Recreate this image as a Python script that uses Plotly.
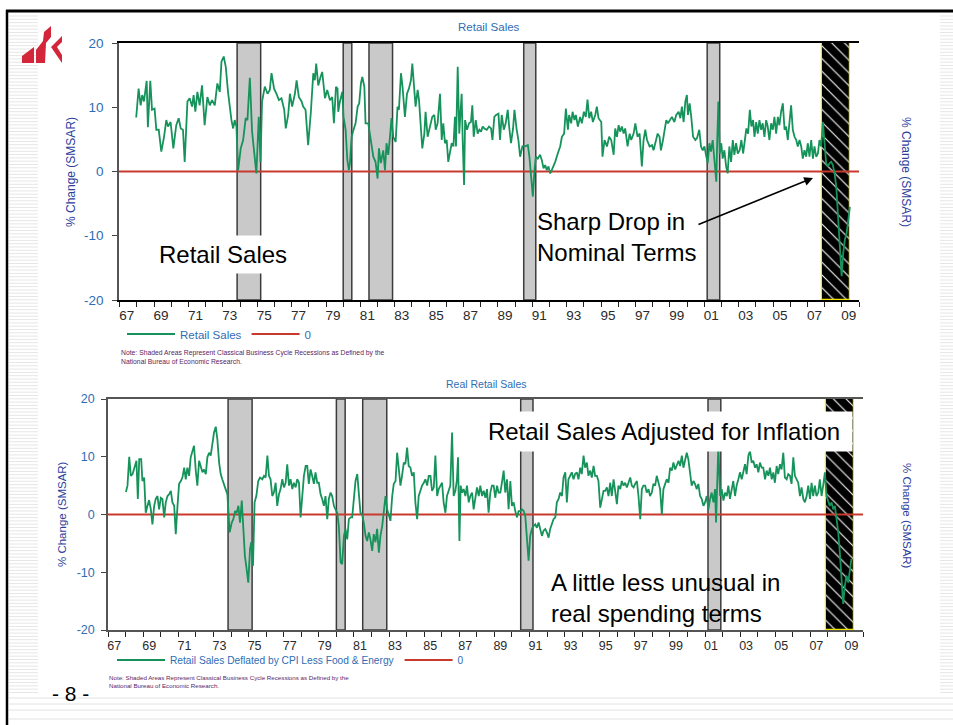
import plotly.graph_objects as go

W, H = 953, 725

# ---------------- data ----------------
# NBER recessions (decimal years); the last one is still open
recessions = [(1973.83, 1975.2), (1980.0, 1980.5), (1981.5, 1982.87),
              (1990.5, 1991.2), (2001.17, 2001.9)]
current_recession = (2007.87, 2009.48)

# Retail sales, % change (SMSAR)
nominal_dates = [
    1967.96, 1968.10, 1968.22, 1968.31, 1968.41, 1968.57, 1968.64, 1968.78, 1968.88, 1969.03,
    1969.13, 1969.27, 1969.42, 1969.58, 1969.71, 1969.81, 1969.96, 1970.12, 1970.29, 1970.43,
    1970.55, 1970.68, 1970.78, 1970.94, 1971.07, 1971.21, 1971.30, 1971.40, 1971.52, 1971.65,
    1971.79, 1971.94, 1972.10, 1972.24, 1972.37, 1972.53, 1972.68, 1972.82, 1972.92, 1973.05,
    1973.17, 1973.30, 1973.50, 1973.60, 1973.69, 1973.79, 1973.89, 1974.04, 1974.18, 1974.33,
    1974.43, 1974.57, 1974.70, 1974.86, 1974.95, 1975.09, 1975.19, 1975.28, 1975.44, 1975.60,
    1975.73, 1975.83, 1975.98, 1976.12, 1976.26, 1976.41, 1976.57, 1976.66, 1976.80, 1976.90,
    1977.03, 1977.19, 1977.29, 1977.42, 1977.58, 1977.67, 1977.81, 1977.96, 1978.12, 1978.26,
    1978.35, 1978.43, 1978.55, 1978.68, 1978.78, 1978.94, 1979.07, 1979.23, 1979.36, 1979.46,
    1979.58, 1979.67, 1979.71, 1979.81, 1979.95, 1980.02, 1980.14, 1980.24, 1980.33, 1980.39,
    1980.49, 1980.60, 1980.72, 1980.84, 1980.93, 1981.03, 1981.11, 1981.23, 1981.30, 1981.46,
    1981.61, 1981.75, 1981.88, 1982.00, 1982.08, 1982.19, 1982.33, 1982.43, 1982.52, 1982.62,
    1982.72, 1982.81, 1982.91, 1983.05, 1983.16, 1983.24, 1983.36, 1983.45, 1983.59, 1983.71,
    1983.82, 1983.94, 1984.02, 1984.11, 1984.21, 1984.33, 1984.41, 1984.52, 1984.60, 1984.72,
    1984.79, 1984.91, 1985.05, 1985.18, 1985.30, 1985.38, 1985.49, 1985.63, 1985.73, 1985.82,
    1985.92, 1986.02, 1986.11, 1986.21, 1986.31, 1986.41, 1986.50, 1986.56, 1986.66, 1986.75,
    1986.89, 1986.95, 1987.03, 1987.09, 1987.20, 1987.32, 1987.43, 1987.51, 1987.59, 1987.71,
    1987.82, 1987.92, 1988.02, 1988.11, 1988.21, 1988.35, 1988.48, 1988.60, 1988.68, 1988.79,
    1988.89, 1989.03, 1989.12, 1989.22, 1989.34, 1989.45, 1989.57, 1989.65, 1989.76, 1989.88,
    1989.96, 1990.09, 1990.19, 1990.29, 1990.42, 1990.58, 1990.74, 1990.83, 1990.93, 1991.03,
    1991.12, 1991.20, 1991.32, 1991.45, 1991.55, 1991.65, 1991.75, 1991.84, 1991.94, 1992.04,
    1992.13, 1992.23, 1992.33, 1992.48, 1992.62, 1992.72, 1992.85, 1992.95, 1993.07, 1993.14,
    1993.26, 1993.34, 1993.45, 1993.53, 1993.65, 1993.78, 1993.88, 1994.00, 1994.11, 1994.21,
    1994.31, 1994.42, 1994.52, 1994.66, 1994.75, 1994.85, 1995.01, 1995.08, 1995.20, 1995.34,
    1995.47, 1995.59, 1995.73, 1995.82, 1995.92, 1996.02, 1996.11, 1996.21, 1996.31, 1996.40,
    1996.54, 1996.66, 1996.75, 1996.89, 1996.99, 1997.12, 1997.24, 1997.37, 1997.47, 1997.57,
    1997.67, 1997.82, 1997.96, 1998.05, 1998.19, 1998.29, 1998.40, 1998.48, 1998.60, 1998.70,
    1998.79, 1998.89, 1998.99, 1999.12, 1999.26, 1999.37, 1999.51, 1999.61, 1999.70, 1999.80,
    1999.90, 1999.99, 2000.05, 2000.15, 2000.25, 2000.35, 2000.48, 2000.58, 2000.71, 2000.81,
    2000.91, 2001.01, 2001.10, 2001.20, 2001.30, 2001.39, 2001.49, 2001.59, 2001.70, 2001.74,
    2001.82, 2001.90, 2001.99, 2002.07, 2002.17, 2002.27, 2002.36, 2002.46, 2002.56, 2002.66,
    2002.75, 2002.85, 2002.95, 2003.06, 2003.16, 2003.26, 2003.36, 2003.45, 2003.55, 2003.65,
    2003.74, 2003.84, 2003.92, 2004.02, 2004.11, 2004.21, 2004.31, 2004.40, 2004.50, 2004.60,
    2004.69, 2004.79, 2004.89, 2004.99, 2005.08, 2005.18, 2005.28, 2005.37, 2005.47, 2005.57,
    2005.67, 2005.76, 2005.86, 2005.96, 2006.05, 2006.15, 2006.25, 2006.35, 2006.44, 2006.54,
    2006.64, 2006.73, 2006.83, 2006.93, 2007.02, 2007.12, 2007.22, 2007.32, 2007.41, 2007.51,
    2007.61, 2007.70, 2007.80, 2007.90, 2007.99, 2008.09, 2008.19, 2008.29, 2008.38, 2008.48,
    2008.58, 2008.68, 2008.77, 2008.87, 2008.99, 2009.08, 2009.18, 2009.28, 2009.37, 2009.47,
]
nominal_pct = [
    8.4, 12.9, 10.3, 11.9, 10.9, 14.1, 6.9, 14.1, 9.6, 9.8,
    6.5, 6.5, 3.1, 5.4, 8.0, 7.0, 7.7, 3.6, 7.2, 8.3,
    6.7, 6.5, 1.5, 10.9, 11.4, 10.1, 11.9, 9.3, 12.4, 10.3,
    13.4, 7.2, 11.6, 10.3, 11.1, 10.3, 13.7, 12.4, 17.1, 17.9,
    16.3, 12.4, 8.0, 6.7, 8.0, 7.0, 0.2, 3.6, 4.9, 8.3,
    8.0, 14.6, 6.2, 2.6, -0.3, 8.5, 1.5, 10.9, 13.2, 12.1,
    12.7, 15.3, 12.9, 12.1, 11.1, 11.4, 9.6, 6.7, 8.8, 12.1,
    10.1, 12.1, 14.2, 11.6, 10.9, 10.1, 9.6, 4.1, 9.3, 15.3,
    14.2, 16.8, 13.4, 14.7, 15.5, 11.4, 12.7, 11.1, 11.6, 7.5,
    13.2, 12.9, 9.3, 10.9, 12.4, 8.5, 6.5, 1.8, 0.2, 1.3,
    5.4, 6.5, 7.5, 10.1, 10.6, 13.7, 14.7, 13.2, 7.5, 7.5,
    4.9, 2.3, 1.5, -1.1, 3.6, 1.3, 3.3, 0.2, 4.4, 2.6,
    5.4, 8.3, 5.4, 4.6, 10.1, 9.6, 15.3, 13.2, 8.5, 12.1,
    12.9, 14.2, 16.8, 13.2, 10.1, 12.7, 11.1, 6.7, 3.6, 5.9,
    9.3, 5.4, 7.0, 8.5, 8.8, 6.5, 7.5, 12.1, 4.9, 7.5,
    4.4, 4.9, 1.5, 2.8, 4.4, 3.9, 8.5, 3.9, 16.3, 5.9,
    12.1, 4.9, -2.1, 8.0, 6.5, 7.5, 7.7, 10.3, 5.4, 8.0,
    5.9, 6.5, 6.2, 7.0, 6.7, 6.5, 7.0, 6.7, 4.9, 8.5,
    8.8, 9.0, 4.9, 8.8, 6.5, 7.5, 9.6, 7.0, 4.4, 6.7,
    9.6, 6.5, 4.9, 2.3, 3.9, 3.9, 4.1, 2.3, -1.3, -3.9,
    0.0, 2.3, 2.0, 2.6, 1.8, 0.5, 1.0, 0.2, 0.8, -0.3,
    0.2, 0.8, 1.5, 2.8, 3.9, 5.4, 5.9, 9.8, 6.5, 8.8,
    7.5, 9.3, 8.0, 8.8, 7.0, 8.5, 7.5, 9.3, 8.5, 11.2,
    8.3, 9.3, 7.7, 8.8, 10.1, 8.3, 7.7, 2.3, 4.9, 3.9,
    5.4, 4.9, 2.6, 6.7, 5.4, 7.2, 6.2, 7.0, 5.9, 6.7,
    3.9, 5.9, 4.9, 5.9, 7.5, 5.4, 5.9, 0.8, 4.9, 6.5,
    4.9, 3.9, 4.1, 3.3, 4.9, 5.9, 5.4, 3.3, 4.9, 6.5,
    8.0, 7.5, 8.0, 8.5, 7.7, 8.8, 9.3, 8.3, 10.1, 7.7,
    10.9, 11.9, 8.8, 10.6, 8.3, 5.4, 4.9, 5.2, 6.5, 3.9,
    3.3, 3.9, 2.6, 1.3, 4.4, 3.1, 4.9, 2.3, -1.6, 3.3,
    10.9, 2.8, 4.4, 2.0, 3.3, 0.8, -0.3, 3.9, 1.5, 4.9,
    2.6, 4.4, 2.8, 3.3, 4.9, 2.8, 4.9, 6.7, 5.9, 9.6,
    7.0, 8.0, 5.4, 7.7, 5.9, 8.0, 6.5, 7.5, 5.4, 8.0,
    7.0, 4.9, 7.5, 6.5, 8.5, 5.9, 8.5, 7.2, 9.3, 10.6,
    6.5, 7.0, 4.9, 8.0, 10.3, 6.5, 5.4, 4.9, 3.9, 4.9,
    3.9, 2.0, 3.3, 2.3, 4.4, 2.3, 4.9, 2.0, 3.9, 2.3,
    2.8, 4.9, 3.9, 7.7, 3.9, 1.3, 0.8, 1.3, 1.5, 1.0,
    -0.3, -2.4, -6.5, -11.7, -16.3, -12.7, -10.6, -9.6, -8.0, -5.5,
]

# Retail sales deflated by CPI less food & energy, % change (SMSAR)
real_dates = [
    1968.01, 1968.10, 1968.20, 1968.29, 1968.39, 1968.48, 1968.61, 1968.69, 1968.77, 1968.88,
    1968.95, 1969.05, 1969.14, 1969.24, 1969.33, 1969.43, 1969.52, 1969.62, 1969.71, 1969.81,
    1969.90, 1970.00, 1970.09, 1970.19, 1970.28, 1970.38, 1970.47, 1970.57, 1970.66, 1970.76,
    1970.85, 1970.95, 1971.04, 1971.14, 1971.23, 1971.33, 1971.42, 1971.51, 1971.61, 1971.70,
    1971.80, 1971.89, 1971.99, 1972.08, 1972.18, 1972.27, 1972.37, 1972.46, 1972.56, 1972.65,
    1972.75, 1972.84, 1972.94, 1973.03, 1973.13, 1973.22, 1973.32, 1973.41, 1973.50, 1973.60,
    1973.69, 1973.79, 1973.92, 1974.04, 1974.13, 1974.23, 1974.32, 1974.42, 1974.51, 1974.61,
    1974.70, 1974.79, 1974.89, 1974.98, 1975.08, 1975.15, 1975.25, 1975.34, 1975.44, 1975.55,
    1975.65, 1975.78, 1975.88, 1975.97, 1976.07, 1976.16, 1976.25, 1976.35, 1976.44, 1976.54,
    1976.63, 1976.73, 1976.82, 1976.92, 1977.01, 1977.11, 1977.20, 1977.30, 1977.39, 1977.49,
    1977.58, 1977.68, 1977.77, 1977.87, 1977.96, 1978.06, 1978.15, 1978.25, 1978.34, 1978.43,
    1978.53, 1978.62, 1978.72, 1978.81, 1978.91, 1979.00, 1979.10, 1979.19, 1979.29, 1979.38,
    1979.48, 1979.57, 1979.67, 1979.76, 1979.86, 1979.95, 1980.05, 1980.14, 1980.24, 1980.33,
    1980.43, 1980.52, 1980.62, 1980.71, 1980.81, 1980.90, 1981.00, 1981.09, 1981.19, 1981.28,
    1981.37, 1981.47, 1981.56, 1981.66, 1981.75, 1981.85, 1981.94, 1982.04, 1982.13, 1982.23,
    1982.32, 1982.42, 1982.51, 1982.61, 1982.70, 1982.80, 1982.89, 1982.99, 1983.08, 1983.18,
    1983.27, 1983.37, 1983.46, 1983.55, 1983.65, 1983.74, 1983.84, 1983.93, 1984.03, 1984.12,
    1984.22, 1984.31, 1984.41, 1984.50, 1984.60, 1984.69, 1984.79, 1984.88, 1984.98, 1985.07,
    1985.17, 1985.26, 1985.36, 1985.45, 1985.55, 1985.64, 1985.74, 1985.83, 1985.93, 1986.02,
    1986.11, 1986.21, 1986.30, 1986.40, 1986.49, 1986.59, 1986.68, 1986.78, 1986.87, 1986.93,
    1987.01, 1987.08, 1987.16, 1987.25, 1987.35, 1987.44, 1987.54, 1987.63, 1987.73, 1987.82,
    1987.92, 1988.01, 1988.11, 1988.20, 1988.30, 1988.39, 1988.49, 1988.58, 1988.67, 1988.77,
    1988.86, 1988.96, 1989.05, 1989.15, 1989.24, 1989.34, 1989.43, 1989.53, 1989.62, 1989.72,
    1989.81, 1989.91, 1990.00, 1990.10, 1990.19, 1990.29, 1990.38, 1990.48, 1990.57, 1990.67,
    1990.76, 1990.85, 1990.95, 1991.04, 1991.14, 1991.23, 1991.33, 1991.42, 1991.52, 1991.61,
    1991.71, 1991.80, 1991.90, 1991.99, 1992.09, 1992.18, 1992.28, 1992.37, 1992.47, 1992.56,
    1992.66, 1992.75, 1992.85, 1992.94, 1993.04, 1993.13, 1993.22, 1993.32, 1993.41, 1993.51,
    1993.60, 1993.70, 1993.79, 1993.89, 1993.98, 1994.08, 1994.17, 1994.27, 1994.36, 1994.46,
    1994.55, 1994.65, 1994.74, 1994.84, 1994.93, 1995.03, 1995.12, 1995.22, 1995.31, 1995.41,
    1995.50, 1995.60, 1995.69, 1995.79, 1995.88, 1995.98, 1996.07, 1996.17, 1996.26, 1996.36,
    1996.45, 1996.55, 1996.64, 1996.74, 1996.83, 1996.93, 1997.02, 1997.12, 1997.21, 1997.31,
    1997.40, 1997.49, 1997.59, 1997.68, 1997.78, 1997.87, 1997.97, 1998.06, 1998.16, 1998.25,
    1998.35, 1998.44, 1998.54, 1998.63, 1998.73, 1998.82, 1998.92, 1999.01, 1999.11, 1999.20,
    1999.30, 1999.39, 1999.49, 1999.58, 1999.68, 1999.77, 1999.87, 1999.96, 2000.05, 2000.15,
    2000.24, 2000.34, 2000.43, 2000.53, 2000.62, 2000.72, 2000.81, 2000.91, 2001.00, 2001.10,
    2001.19, 2001.29, 2001.38, 2001.48, 2001.57, 2001.63, 2001.70, 2001.76, 2001.86, 2001.95,
    2002.05, 2002.14, 2002.24, 2002.33, 2002.42, 2002.52, 2002.61, 2002.71, 2002.80, 2002.90,
    2002.99, 2003.09, 2003.18, 2003.28, 2003.37, 2003.47, 2003.56, 2003.66, 2003.75, 2003.85,
    2003.94, 2004.04, 2004.13, 2004.23, 2004.32, 2004.42, 2004.51, 2004.61, 2004.70, 2004.80,
    2004.89, 2004.98, 2005.08, 2005.17, 2005.27, 2005.36, 2005.46, 2005.55, 2005.65, 2005.74,
    2005.84, 2005.93, 2006.03, 2006.12, 2006.22, 2006.31, 2006.41, 2006.50, 2006.60, 2006.69,
    2006.79, 2006.88, 2006.98, 2007.07, 2007.16, 2007.26, 2007.35, 2007.45, 2007.54, 2007.64,
    2007.73, 2007.83, 2007.92, 2008.02, 2008.11, 2008.21, 2008.30, 2008.40, 2008.49, 2008.59,
    2008.68, 2008.78, 2008.87, 2008.97, 2009.06, 2009.16, 2009.25, 2009.34,
]
real_pct = [
    3.9, 5.0, 10.0, 6.7, 7.0, 8.1, 9.3, 2.7, 9.6, 9.6,
    5.8, 6.4, 0.3, 1.5, 2.5, 0.9, -1.7, 1.5, 2.7, 3.2,
    0.9, 2.9, 2.7, -0.5, 2.1, 3.2, 3.5, 4.1, 2.1, 1.5,
    -3.4, 1.5, 5.3, 5.8, 6.4, 8.1, 6.1, 8.1, 6.7, 9.9,
    11.0, 11.9, 7.6, 5.0, 9.3, 8.4, 7.3, 7.8, 7.0, 9.9,
    10.7, 10.2, 12.5, 14.2, 15.2, 13.0, 9.0, 7.0, 6.1, 5.0,
    4.4, 3.5, -3.1, -1.4, -0.8, 0.6, 0.3, 1.5, -1.4, 2.4,
    -3.7, -7.2, -9.5, -11.8, -6.0, -4.8, -8.9, 2.1, 3.2, 5.8,
    6.4, 6.1, 6.7, 6.4, 10.2, 6.7, 6.1, 3.2, 3.8, 5.5,
    1.5, 3.5, 4.4, 6.1, 4.7, 5.5, 8.7, 5.0, 6.1, 4.4,
    5.5, 4.7, 6.1, 5.5, -0.5, 2.7, 6.7, 8.4, 8.4, 5.3,
    7.8, 6.7, 5.3, 7.3, 5.5, 5.5, 3.5, 2.7, 1.5, 3.2,
    -0.8, 2.7, 3.8, 3.2, 1.5, 0.9, 0.3, -2.0, -8.3, -8.6,
    -3.7, -2.5, -4.3, -0.8, -0.5, -0.5, 3.2, 5.8, 7.0, 3.2,
    0.3, 0.0, -1.4, -3.7, -4.6, -3.1, -4.3, -6.3, -3.4, -4.8,
    -2.5, -6.6, -3.7, -2.0, 0.9, 3.2, 0.9, -0.2, -1.1, 3.2,
    5.3, 5.8, 10.7, 8.1, 5.0, 6.7, 9.0, 8.7, 11.6, 8.4,
    8.1, 6.7, 7.3, 2.1, -0.8, 3.2, 4.4, 5.0, 5.5, 6.1,
    5.0, 6.7, 6.7, 4.1, 4.7, 10.2, 3.2, 4.4, 5.0, 5.5,
    2.1, 0.3, 3.2, 4.4, 5.0, 14.2, 3.2, 4.1, 6.1, 9.9,
    -4.6, 5.0, 3.8, 4.4, 3.2, 5.0, 2.1, 3.2, 3.8, 0.9,
    3.2, 4.7, 3.2, 5.0, 3.2, 4.1, 2.9, 4.4, 0.3, 3.8,
    5.0, 5.0, 2.9, 5.0, 3.8, 3.8, 5.5, 7.6, 3.8, 6.1,
    0.9, 5.8, 1.5, 2.1, 0.6, -0.5, 0.6, 0.6, 0.9, 0.6,
    -0.2, -3.7, -8.0, -3.7, -2.5, -2.0, -1.7, -2.3, -1.4, -2.5,
    -3.7, -2.8, -2.5, -3.1, -4.0, -2.5, -1.7, -0.8, -0.5, 2.1,
    2.7, 3.8, 3.2, 6.4, 7.3, 2.1, 6.1, 6.7, 7.3, 6.1,
    7.0, 7.3, 6.1, 8.1, 7.0, 10.2, 8.1, 9.0, 6.7, 7.6,
    6.4, 8.4, 6.7, 6.7, 5.8, 1.2, 2.7, 4.1, 4.1, 4.7,
    3.2, 5.5, 3.2, 6.1, 4.1, 1.8, 5.0, 4.4, 5.8, 5.0,
    5.5, 4.7, 5.5, 6.4, 5.0, 4.7, 5.3, 5.8, 3.2, -0.8,
    4.4, 5.0, 5.0, 3.8, 4.4, 3.2, 3.8, 5.3, 5.0, 6.7,
    5.5, 4.4, 0.0, 4.4, 5.3, 6.1, 5.5, 8.1, 7.6, 9.0,
    7.8, 8.7, 9.3, 8.4, 10.2, 8.1, 9.6, 10.7, 9.6, 7.6,
    5.0, 5.8, 5.3, 4.4, 5.3, 3.2, 2.7, 1.5, 2.1, 3.2,
    0.9, 2.7, 3.8, 2.1, 4.4, -1.4, 9.0, 12.0, 3.2, 4.4,
    2.4, 3.8, 3.2, 5.0, 2.7, 4.4, 5.8, 3.2, 5.0, 6.1,
    7.3, 6.1, 7.3, 8.7, 7.0, 10.2, 11.0, 9.0, 9.3, 8.1,
    8.7, 7.3, 9.0, 8.1, 8.1, 6.1, 7.6, 6.7, 8.1, 6.1,
    7.3, 5.5, 8.4, 7.0, 8.7, 7.8, 10.7, 6.4, 6.1, 7.0,
    6.7, 5.3, 9.9, 6.7, 6.1, 5.5, 3.2, 4.7, 2.7, 2.1,
    3.2, 5.0, 2.7, 5.5, 3.2, 5.0, 3.2, 3.8, 6.1, 3.2,
    5.0, 7.3, 3.2, 2.1, 1.5, 2.1, 0.9, 1.5, -0.8, -3.1,
    -6.6, -10.6, -15.5, -12.3, -10.6, -11.8, -10.0, -7.7,
]

tick_years = list(range(1967, 2011))
tick_labels = [f"{y % 100:02d}" if y % 2 == 1 else "" for y in tick_years]
y_ticks = [-20, -10, 0, 10, 20]
y_tick_labels = ["-20", "-10", "0", "10", "20"]

# ---------------- styling ----------------
GREEN = "#16935a"
RED = "#c93a2e"
BLUE = "#2f6db4"
TITLE_BLUE = "#2c3d9c"
NOTE = "#5d1d62"
BAND = "#c9c9c9"
BAND_EDGE = "#3c3c3c"
SANS = "Liberation Sans, Arial, Helvetica, sans-serif"


def fx(p):
    return p / W


def fy(p):
    return 1 - p / H


def poly(points):
    return "M " + " L ".join(f"{fx(x):.5f},{fy(y):.5f}" for x, y in points) + " Z"


# plot areas (pixels): left, right, top, bottom
TOP = dict(l=119, r=859, t=43, b=300, xr=[1966.96, 2010.0], shift=7)
BOT = dict(l=108, r=863, t=399, b=630, xr=[1966.99, 2010.0], shift=6)

fig = go.Figure()


def add_panel(p, xa, ya, series_x, series_y, name, legend):
    x0, x1 = current_recession
    fig.add_trace(go.Bar(
        x=[(x0 + x1) / 2], y=[40], base=[-20], width=[x1 - x0],
        xaxis=xa, yaxis=ya, showlegend=False, hoverinfo="skip",
        marker=dict(color="black", line=dict(color="#f2e600", width=1.2),
                    pattern=dict(shape="\\", fgcolor="white", bgcolor="black",
                                 size=9, solidity=0.12, fillmode="replace")),
    ))
    fig.add_trace(go.Scatter(
        x=p["xr"], y=[0, 0], mode="lines", name="0", xaxis=xa, yaxis=ya,
        line=dict(color=RED, width=2), legend=legend, legendrank=2,
    ))
    fig.add_trace(go.Scatter(
        x=series_x, y=series_y, mode="lines", name=name, xaxis=xa, yaxis=ya,
        line=dict(color=GREEN, width=1.8), legend=legend, legendrank=1,
    ))


add_panel(TOP, "x", "y", nominal_dates, nominal_pct, "Retail Sales", "legend")
add_panel(BOT, "x2", "y3", real_dates, real_pct,
          "Retail Sales Deflated by CPI Less Food &amp; Energy", "legend2")


def xaxis_cfg(p, anchor, size, edge, standoff):
    return dict(
        domain=[fx(p["l"]), fx(p["r"])], range=p["xr"], anchor=anchor,
        tickmode="array", tickvals=tick_years, ticktext=tick_labels,
        ticks="outside", ticklen=5, tickcolor="#222", tickwidth=1,
        ticklabelshift=p["shift"], ticklabelstandoff=standoff,
        tickfont=dict(family=SANS, size=size, color="#2a2a2a"),
        showline=True, linecolor=edge, linewidth=1.5, mirror=True,
        showgrid=False, zeroline=False,
    )


def yaxis_cfg(p, anchor, side, size, standoff, overlay=None):
    d = dict(
        domain=[fy(p["b"]), fy(p["t"])], range=[-20, 20], anchor=anchor, side=side,
        tickmode="array", tickvals=y_ticks, ticktext=y_tick_labels,
        ticks="outside", ticklen=5, tickcolor="#444", ticklabelstandoff=standoff,
        tickfont=dict(family=SANS, size=size, color=BLUE),
        showline=True, linecolor="#555", linewidth=1.5,
        showgrid=False, zeroline=False,
    )
    if overlay:
        d["overlaying"] = overlay
    return d


shapes = []
for p, xa in ((TOP, "x"), (BOT, "x2")):
    for a, b in recessions:
        shapes.append(dict(type="rect", xref=xa, yref=f"{'y' if xa == 'x' else 'y3'} domain",
                           x0=a, x1=b, y0=0, y1=1, fillcolor=BAND,
                           line=dict(color=BAND_EDGE, width=1.5), layer="below"))

# page frame and striped margins
yy = 16.0
while yy < 694:
    shapes.append(dict(type="line", xref="paper", yref="paper", x0=fx(9), x1=fx(38),
                       y0=fy(yy), y1=fy(yy), line=dict(color="#e6e6e6", width=1)))
    shapes.append(dict(type="line", xref="paper", yref="paper", x0=fx(940), x1=1,
                       y0=fy(yy), y1=fy(yy), line=dict(color="#e6e6e6", width=1)))
    yy += 3.3
for yb in (698, 704, 710, 719):
    shapes.append(dict(type="line", xref="paper", yref="paper", x0=fx(9), x1=1,
                       y0=fy(yb), y1=fy(yb), line=dict(color="#e2e2e2", width=1)))
shapes.append(dict(type="line", xref="paper", yref="paper", x0=fx(6), x1=1, y0=fy(11), y1=fy(11),
                   line=dict(color="black", width=3)))
shapes.append(dict(type="line", xref="paper", yref="paper", x0=fx(7), x1=fx(7), y0=fy(10), y1=0,
                   line=dict(color="black", width=2.5)))

# logo
for pts in (
    [(22, 63), (22, 56), (34, 47), (34, 63)],
    [(36, 63), (36, 50), (43, 41), (44, 32), (51, 26), (51, 37), (46, 43), (45, 63)],
    [(62, 36), (51, 47), (62, 63), (62, 55), (57, 47), (62, 42)],
):
    shapes.append(dict(type="path", xref="paper", yref="paper", path=poly(pts),
                       fillcolor="#d3263a", line=dict(width=0)))


def note(x, y, text, size, color, **kw):
    d = dict(xref="paper", yref="paper", x=fx(x), y=fy(y), text=text, showarrow=False,
             xanchor="center", yanchor="middle",
             font=dict(family=SANS, size=size, color=color))
    d.update(kw)
    return d


NOTE_TEXT = ("Note: Shaded Areas Represent Classical Business Cycle Recessions as Defined by the"
             "<br>National Bureau of Economic Research.")

annotations = [
    note(489, 27, "Retail Sales", 11.5, BLUE),
    note(486, 384, "Real Retail Sales", 10.5, BLUE),
    note(71, 172, "% Change (SMSAR)", 12, TITLE_BLUE, textangle=-90),
    note(906, 172, "% Change (SMSAR)", 12, TITLE_BLUE, textangle=90),
    note(62, 514, "% Change (SMSAR)", 11.5, TITLE_BLUE, textangle=-90),
    note(907, 516, "% Change (SMSAR)", 11.5, TITLE_BLUE, textangle=90),
    note(119, 357, NOTE_TEXT, 6.8, NOTE, xanchor="left", align="left"),
    note(107, 681, NOTE_TEXT, 6.2, NOTE, xanchor="left", align="left"),
    note(223, 254, "Retail Sales", 24, "black", bgcolor="white", borderpad=5),
    note(535, 237, "Sharp Drop in<br>Nominal Terms", 24, "black", xanchor="left", align="left"),
    note(664, 431, "Retail Sales Adjusted for Inflation", 24, "black",
         bgcolor="white", width=372, height=35, borderpad=2),
    note(549, 598, "A little less unusual in<br>real spending terms", 24, "black",
         xanchor="left", align="left"),
    note(70, 693, "- 8 -", 21, "black"),
    dict(xref="paper", yref="paper", x=fx(813), y=fy(178), text="", showarrow=True,
         axref="pixel", ayref="pixel", ax=-116, ay=47, arrowhead=2, arrowsize=1.1,
         arrowwidth=1.6, arrowcolor="black", standoff=0, startstandoff=0),
]

fig.update_layout(
    width=W, height=H, margin=dict(l=0, r=0, t=0, b=0, pad=0, autoexpand=False),
    paper_bgcolor="white", plot_bgcolor="white",
    barmode="overlay", bargap=0,
    xaxis=xaxis_cfg(TOP, "y", 13.5, "black", -3),
    yaxis=yaxis_cfg(TOP, "x", "left", 13.5, 6),
    yaxis2=yaxis_cfg(TOP, "x", "right", 13.5, 6, overlay="y"),
    xaxis2=xaxis_cfg(BOT, "y3", 12.5, "#555", -2),
    yaxis3=yaxis_cfg(BOT, "x2", "left", 12.5, 4),
    yaxis4=yaxis_cfg(BOT, "x2", "right", 12.5, 4, overlay="y3"),
    legend=dict(orientation="h", x=fx(122), y=fy(334), xanchor="left", yanchor="middle",
                font=dict(family=SANS, size=11.5, color=BLUE), bgcolor="rgba(0,0,0,0)",
                itemwidth=48, traceorder="normal"),
    legend2=dict(orientation="h", x=fx(112), y=fy(660), xanchor="left", yanchor="middle",
                 font=dict(family=SANS, size=10.2, color=BLUE), bgcolor="rgba(0,0,0,0)",
                 itemwidth=48, traceorder="normal"),
    shapes=shapes,
    annotations=annotations,
    showlegend=True,
)

fig.write_html("out.html")
